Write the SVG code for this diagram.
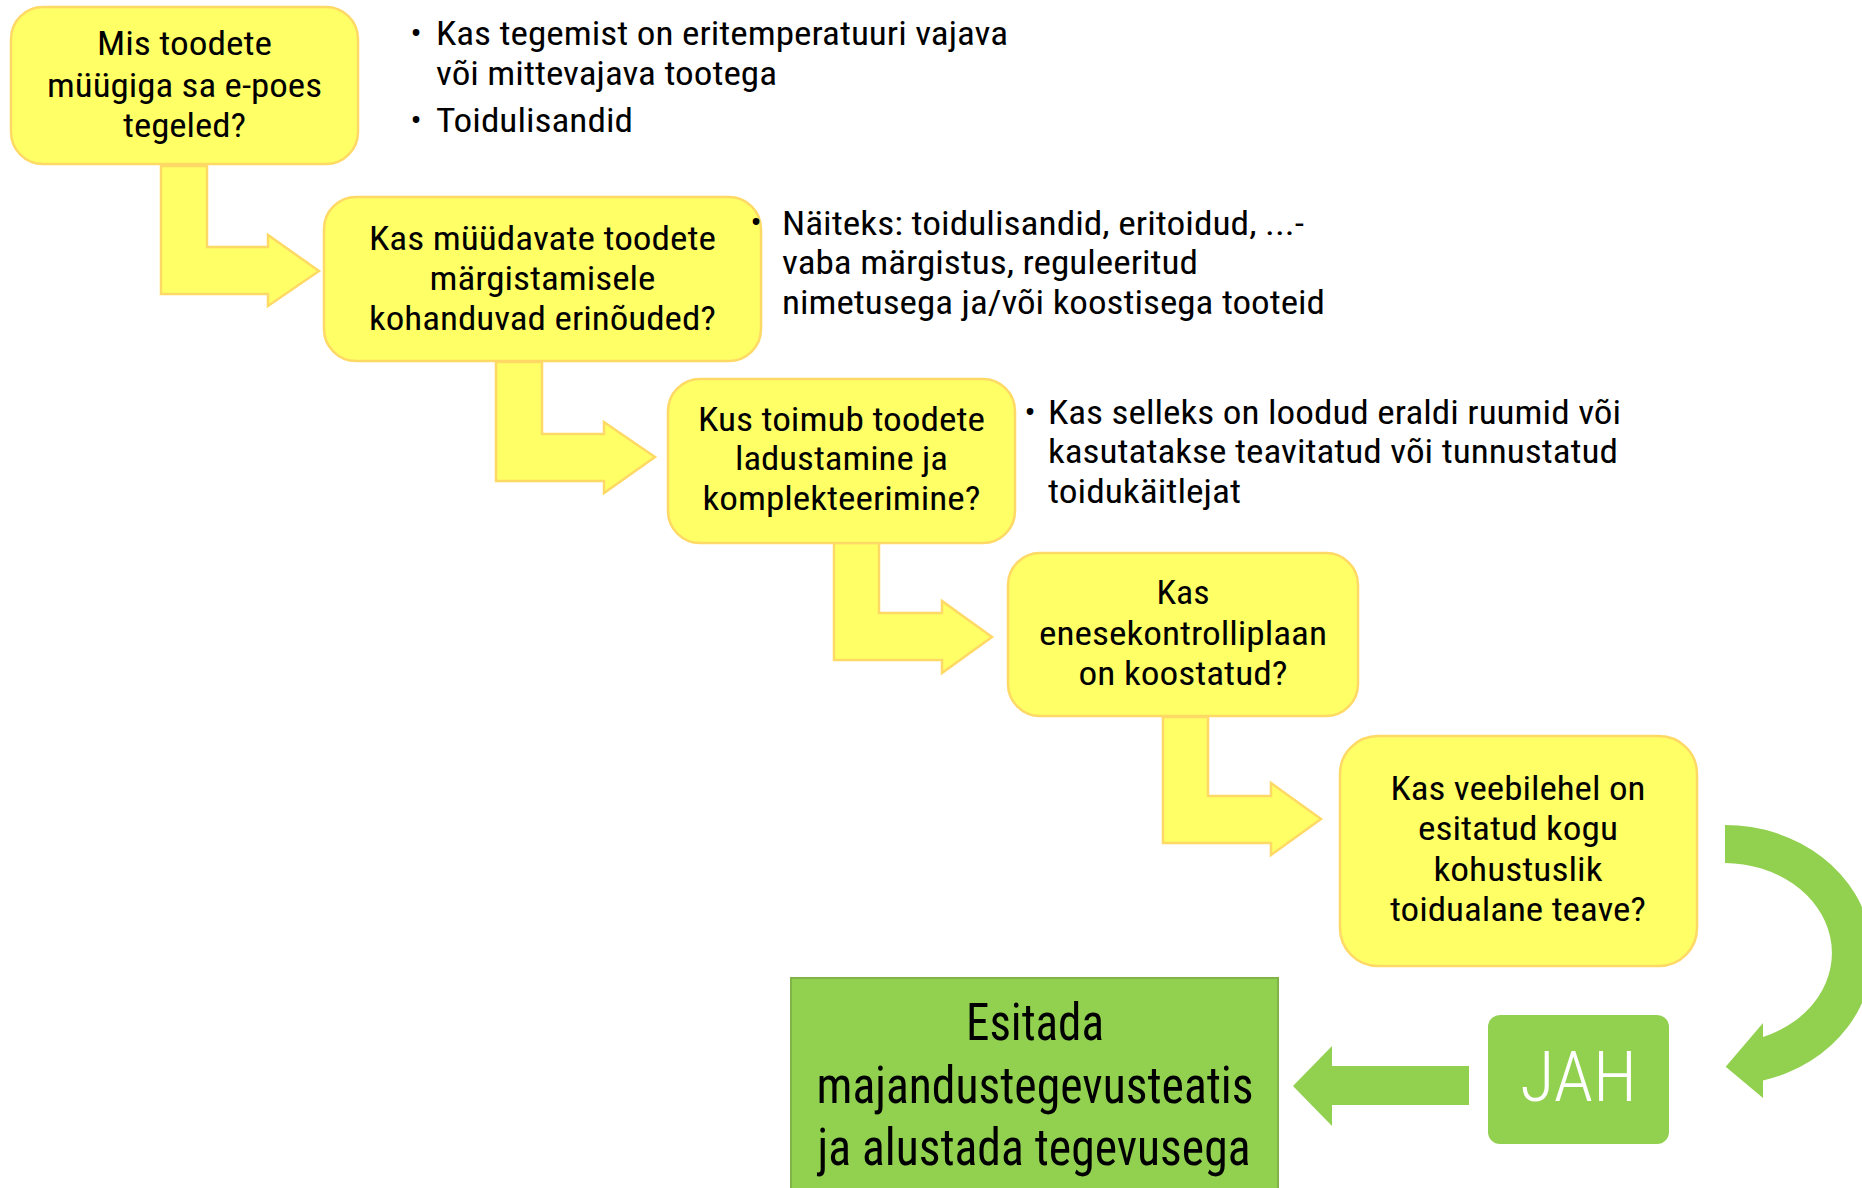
<svg xmlns="http://www.w3.org/2000/svg" width="1862" height="1188" viewBox="0 0 1862 1188">
<style>
.nb{fill:#FFFF66;stroke:#FFD966;stroke-width:2.5}
.ar{fill:#FFFF66;stroke:#FFD966;stroke-width:2.5;stroke-linejoin:miter}
.gr{fill:#92D050}
.t{font-family:"Roboto Condensed",Roboto,"Liberation Sans Narrow",sans-serif;font-stretch:condensed;font-size:33px;fill:#000}
.c{text-anchor:middle}
.big{font-size:52px}
.jah{font-size:71px;font-weight:300;fill:#fff}
</style>
<rect width="1862" height="1188" fill="#fff"/>
<g id="connectors">
<polygon class="ar" points="161,166 207,166 207,247 268,247 268,235 319,271 268,306 268,294 161,294"/>
<polygon class="ar" points="496,362 542,362 542,434 604,434 604,422 655,457 604,493 604,481 496,481"/>
<polygon class="ar" points="834,543 879,543 879,613 942,613 942,601 992,637 942,673 942,660 834,660"/>
<polygon class="ar" points="1163,717 1208,717 1208,796 1271,796 1271,783 1321,819 1271,855 1271,843 1163,843"/>
<path class="gr" d="M1725,825 A147.5,130 0 0 1 1763,1080.6 L1763,1098 L1725.7,1066.7 L1763,1023 L1763,1037 A107.5,90 0 0 0 1725,863 Z"/>
<polygon class="gr" points="1293,1086 1332,1046 1332,1066 1469,1066 1469,1105 1332,1105 1332,1126"/>
</g>
<g id="node1">
<rect class="nb" x="11" y="7" width="347" height="157" rx="32"/>
<text class="t c" x="184.5" y="55" textLength="175" lengthAdjust="spacingAndGlyphs">Mis toodete</text>
<text class="t c" x="184.5" y="96.5" textLength="275" lengthAdjust="spacingAndGlyphs">müügiga sa e-poes</text>
<text class="t c" x="184.5" y="137" textLength="123" lengthAdjust="spacingAndGlyphs">tegeled?</text>
</g>
<g id="note1">
<text class="t c" x="416" y="45">•</text>
<text class="t" x="436" y="45" textLength="572" lengthAdjust="spacingAndGlyphs">Kas tegemist on eritemperatuuri vajava</text>
<text class="t" x="436" y="85" textLength="341" lengthAdjust="spacingAndGlyphs">või mittevajava tootega</text>
<text class="t c" x="416" y="131.5">•</text>
<text class="t" x="436" y="131.5" textLength="197" lengthAdjust="spacingAndGlyphs">Toidulisandid</text>
</g>
<g id="node2">
<rect class="nb" x="324" y="197" width="437" height="164" rx="32"/>
<text class="t c" x="542.5" y="250" textLength="347" lengthAdjust="spacingAndGlyphs">Kas müüdavate toodete</text>
<text class="t c" x="542.5" y="290" textLength="226" lengthAdjust="spacingAndGlyphs">märgistamisele</text>
<text class="t c" x="542.5" y="330" textLength="347" lengthAdjust="spacingAndGlyphs">kohanduvad erinõuded?</text>
</g>
<g id="note2">
<text class="t c" x="756" y="234">•</text>
<text class="t" x="782" y="235" textLength="522" lengthAdjust="spacingAndGlyphs">Näiteks: toidulisandid, eritoidud, ...-</text>
<text class="t" x="782" y="274" textLength="416" lengthAdjust="spacingAndGlyphs">vaba märgistus, reguleeritud</text>
<text class="t" x="782" y="313.5" textLength="543" lengthAdjust="spacingAndGlyphs">nimetusega ja/või koostisega tooteid</text>
</g>
<g id="node3">
<rect class="nb" x="668" y="379" width="347" height="164" rx="32"/>
<text class="t c" x="841.5" y="431" textLength="287" lengthAdjust="spacingAndGlyphs">Kus toimub toodete</text>
<text class="t c" x="841.5" y="470" textLength="213" lengthAdjust="spacingAndGlyphs">ladustamine ja</text>
<text class="t c" x="841.5" y="510" textLength="278" lengthAdjust="spacingAndGlyphs">komplekteerimine?</text>
</g>
<g id="note3">
<text class="t c" x="1030" y="423.5">•</text>
<text class="t" x="1048" y="423.5" textLength="573" lengthAdjust="spacingAndGlyphs">Kas selleks on loodud eraldi ruumid või</text>
<text class="t" x="1048" y="463" textLength="570" lengthAdjust="spacingAndGlyphs">kasutatakse teavitatud või tunnustatud</text>
<text class="t" x="1048" y="502.5" textLength="193" lengthAdjust="spacingAndGlyphs">toidukäitlejat</text>
</g>
<g id="node4">
<rect class="nb" x="1008" y="553" width="350" height="163" rx="32"/>
<text class="t c" x="1183" y="604" textLength="53" lengthAdjust="spacingAndGlyphs">Kas</text>
<text class="t c" x="1183" y="645" textLength="288" lengthAdjust="spacingAndGlyphs">enesekontrolliplaan</text>
<text class="t c" x="1183" y="685" textLength="209" lengthAdjust="spacingAndGlyphs">on koostatud?</text>
</g>
<g id="node5">
<rect class="nb" x="1340" y="736" width="357" height="230" rx="38"/>
<text class="t c" x="1518" y="800" textLength="255" lengthAdjust="spacingAndGlyphs">Kas veebilehel on</text>
<text class="t c" x="1518" y="840" textLength="200" lengthAdjust="spacingAndGlyphs">esitatud kogu</text>
<text class="t c" x="1518" y="881" textLength="169" lengthAdjust="spacingAndGlyphs">kohustuslik</text>
<text class="t c" x="1518" y="921" textLength="256" lengthAdjust="spacingAndGlyphs">toidualane teave?</text>
</g>
<g id="node-jah">
<rect class="gr" x="1488" y="1015" width="181" height="129" rx="12"/>
<text class="t c jah" x="1578.5" y="1101" textLength="117" lengthAdjust="spacingAndGlyphs">JAH</text>
</g>
<g id="node-final">
<rect x="791" y="978" width="487" height="240" fill="#92D050" stroke="#7FB548" stroke-width="2"/>
<text class="t c big" x="1035" y="1040" textLength="138" lengthAdjust="spacingAndGlyphs">Esitada</text>
<text class="t c big" x="1035" y="1102.5" textLength="437" lengthAdjust="spacingAndGlyphs">majandustegevusteatis</text>
<text class="t c big" x="1034" y="1165" textLength="433" lengthAdjust="spacingAndGlyphs">ja alustada tegevusega</text>
</g>
</svg>
